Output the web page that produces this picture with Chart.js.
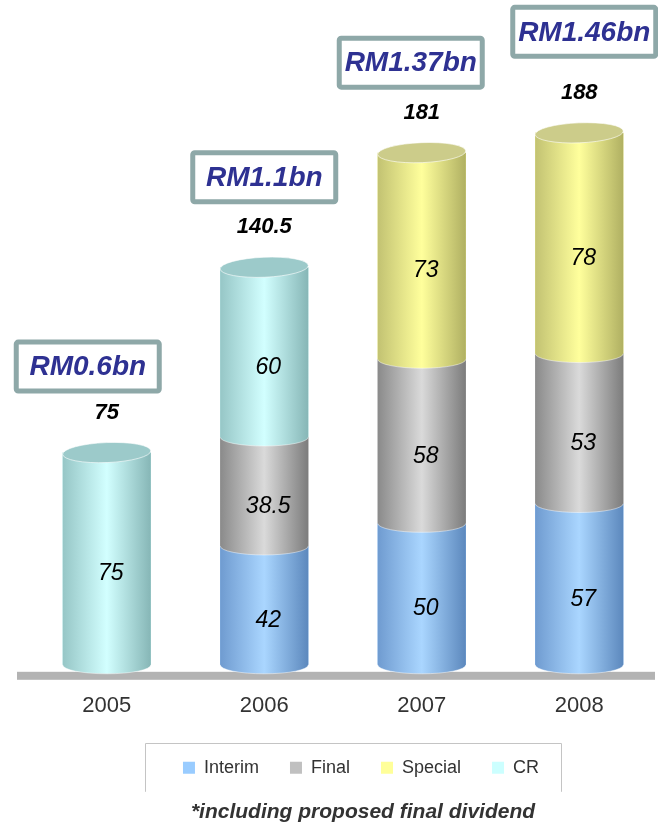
<!DOCTYPE html>
<html>
<head>
<meta charset="utf-8">
<script src="https://cdn.jsdelivr.net/npm/chart.js@4.4.0/dist/chart.umd.min.js"></script>
<style>
  html, body { margin: 0; padding: 0; background: #fff; }
  #wrap { width: 658px; height: 827px; position: relative; }
</style>
</head>
<body>
<div id="wrap"><canvas id="myChart"></canvas></div>
<script>
// dividend per share (sen)
var years = ['2005', '2006', '2007', '2008'];
var interim = [0, 42, 50, 57];
var finalDiv = [0, 38.5, 58, 53];
var special = [0, 0, 73, 78];
var cr = [75, 60, 0, 0];
var payout = ['RM0.6bn', 'RM1.1bn', 'RM1.37bn', 'RM1.46bn'];

// shading for the cylinders: left edge, highlight, right edge, top cap
var shades = [
  ['#6f9bd0', '#aad6ff', '#5c88bd', '#8fb8e8'],
  ['#8a8a8a', '#dadada', '#7c7c7c', '#b4b4b4'],
  ['#c2c272', '#ffff9c', '#b0b062', '#cccc8a'],
  ['#96c6c6', '#d2ffff', '#86b6b6', '#9ccaca']
];
// small nudges for the RM boxes so they sit like the original
var boxNudge = [[-19, 4], [0, 0], [-11, 0], [5, -11]];
var FONT = '"Liberation Sans", Arial, sans-serif';

var cylinders = {
  id: 'cylinders',
  afterLayout: function(chart) {
    // legend and footnote sit a bit right of the plot centre in the original
    if (chart.legend) chart.legend.left += 36;
    if (chart.titleBlock) chart.titleBlock.left += 40;
  },
  beforeDatasetsDraw: function(chart) {
    var c = chart.ctx;
    var b = chart.chartArea.bottom;
    c.save();
    c.fillStyle = '#b3b3b3';
    c.fillRect(17, b + 7, 638, 8);
    c.restore();
  },
  afterDatasetsDraw: function(chart) {
    var c = chart.ctx;
    var ry = 9;
    c.save();
    years.forEach(function(yr, i) {
      var topBar = null, topIdx = -1;
      chart.data.datasets.forEach(function(ds, d) {
        if (!ds.data[i]) return;
        var p = chart.getDatasetMeta(d).data[i].getProps(['x', 'y', 'base', 'width'], true);
        var l = p.x - p.width / 2, r = p.x + p.width / 2;
        var g = c.createLinearGradient(l, 0, r, 0);
        g.addColorStop(0, shades[d][0]);
        g.addColorStop(0.5, shades[d][1]);
        g.addColorStop(1, shades[d][2]);
        c.fillStyle = g;
        c.beginPath();
        c.moveTo(l, p.y);
        c.lineTo(r, p.y);
        c.lineTo(r, p.base);
        c.ellipse(p.x, p.base, p.width / 2, ry, 0, 0, Math.PI, false);
        c.closePath();
        c.fill();
        c.strokeStyle = 'rgba(255,255,255,0.45)';
        c.lineWidth = 1;
        c.beginPath();
        c.ellipse(p.x, p.base, p.width / 2, ry, 0, 0, Math.PI, false);
        c.stroke();
        topBar = p; topIdx = d;
      });
      if (!topBar) return;
      // top cap
      c.fillStyle = shades[topIdx][3];
      c.beginPath();
      c.ellipse(topBar.x, topBar.y, topBar.width / 2, ry + 1, -0.04, 0, Math.PI * 2);
      c.fill();
      c.strokeStyle = 'rgba(255,255,255,0.6)';
      c.stroke();

      // values inside segments
      c.fillStyle = '#000';
      c.textAlign = 'center';
      c.textBaseline = 'middle';
      c.font = 'italic 23px ' + FONT;
      var total = 0;
      chart.data.datasets.forEach(function(ds, d) {
        var v = ds.data[i];
        if (!v) return;
        total += v;
        var p = chart.getDatasetMeta(d).data[i].getProps(['x', 'y', 'base'], true);
        c.fillText(String(v), p.x + 4, (p.y + p.base) / 2 + 15);
      });

      // total above the cylinder
      var ty = topBar.y - 40;
      c.font = 'italic bold 22px ' + FONT;
      c.fillText(String(total), topBar.x, ty);

      // RM box
      var bx = topBar.x + boxNudge[i][0];
      var by = ty - 50 + boxNudge[i][1];
      var bw = 143, bh = 49;
      c.fillStyle = '#fff';
      c.strokeStyle = '#8ea8a8';
      c.lineWidth = 5;
      c.beginPath();
      c.roundRect(bx - bw / 2, by - bh / 2, bw, bh, 2);
      c.fill();
      c.stroke();
      c.fillStyle = '#2e3192';
      c.font = 'italic bold 28px ' + FONT;
      c.fillText(payout[i], bx, by + 1);
    });
    c.restore();
  },
  afterDraw: function(chart) {
    var lg = chart.legend;
    if (!lg || !lg.legendHitBoxes.length) return;
    var hb = lg.legendHitBoxes[0];
    var mid = hb.top + hb.height / 2;
    var x0 = 145, x1 = 561;
    var y0 = Math.round(mid - 25), y1 = mid + 24;
    var c = chart.ctx;
    c.save();
    c.strokeStyle = '#c4c4c4';
    c.lineWidth = 1;
    c.beginPath();
    c.moveTo(x0 + 0.5, y1);
    c.lineTo(x0 + 0.5, y0 + 0.5);
    c.lineTo(x1 + 0.5, y0 + 0.5);
    c.lineTo(x1 + 0.5, y1);
    c.stroke();
    c.restore();
  }
};

var ctx = document.getElementById('myChart').getContext('2d');

var myChart = new Chart(ctx, {
  type: 'bar',
  data: {
    labels: years,
    datasets: [
      { label: 'Interim', data: interim, backgroundColor: '#99ccff' },
      { label: 'Final', data: finalDiv, backgroundColor: '#c0c0c0' },
      { label: 'Special', data: special, backgroundColor: '#ffff99' },
      { label: 'CR', data: cr, backgroundColor: '#ccffff' }
    ]
  },
  options: {
    responsive: true,
    maintainAspectRatio: false,
    animation: false,
    layout: { padding: { left: 28, right: 0, top: 14, bottom: 2 } },
    datasets: { bar: { categoryPercentage: 1, barPercentage: 0.56, borderWidth: 0 } },
    scales: {
      x: {
        stacked: true,
        grid: { display: false },
        border: { display: false },
        ticks: { color: '#333', padding: 20, font: { size: 22, family: FONT } },
        afterFit: function(axis) { axis.height = 63; }
      },
      y: {
        stacked: true,
        display: false,
        min: 0,
        max: 230
      }
    },
    plugins: {
      legend: {
        position: 'bottom',
        labels: {
          boxWidth: 12,
          boxHeight: 12,
          padding: 31,
          color: '#333',
          font: { size: 18, family: FONT }
        }
      },
      title: {
        display: true,
        position: 'bottom',
        text: '*including proposed final dividend',
        color: '#333',
        padding: { top: 13, bottom: 0 },
        font: { size: 21, style: 'italic', weight: 'bold', family: FONT }
      },
      tooltip: { enabled: false }
    }
  },
  plugins: [cylinders]
});
</script>
</body>
</html>
